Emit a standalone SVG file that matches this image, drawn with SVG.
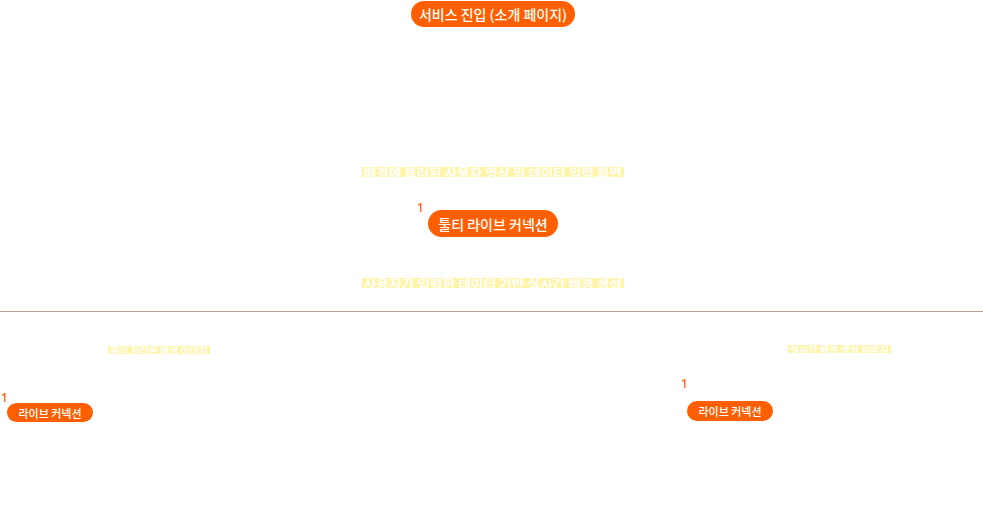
<svg xmlns="http://www.w3.org/2000/svg" width="983" height="523" viewBox="0 0 983 523">
<style>
.pill{fill:#ff5f00}
.pt{fill:#ffffff;font-family:"Noto Sans CJK KR","Noto Sans",sans-serif;font-weight:500;text-anchor:middle;dominant-baseline:central}
.num{fill:#ff5f00;font-family:"Noto Sans","Noto Sans CJK KR",sans-serif;font-weight:500}
.hl{fill:#fff4a8}
.ht{fill:#ffffff;font-family:"Noto Sans CJK KR",sans-serif;font-weight:700;dominant-baseline:central}
</style>
<rect width="983" height="523" fill="#ffffff"/>
<g id="connectors">
<line x1="0" y1="311.5" x2="983" y2="311.5" stroke="#b9a49a" stroke-width="1"/>
</g>
<g id="node-entry">
<rect class="pill" x="411" y="1" width="164" height="26" rx="13"/>
<text class="pt" x="493" y="14" font-size="14">서비스 진입 (소개 페이지)</text>
</g>
<g id="note-1">
<rect class="hl" x="362" y="167" width="262" height="10"/>
<text class="ht" x="364" y="172" font-size="12" textLength="258" lengthAdjust="spacingAndGlyphs">배경에 블러된 사용자 영상 및 데이터 입력 화면</text>
</g>
<g id="node-multi">
<text class="num" x="417" y="212" font-size="12">1</text>
<rect class="pill" x="428" y="210" width="130" height="27" rx="13.5"/>
<text class="pt" x="493" y="223.5" font-size="14">툴티 라이브 커넥션</text>
</g>
<g id="note-2">
<rect class="hl" x="362" y="278" width="262" height="10"/>
<text class="ht" x="364" y="283" font-size="12" textLength="258" lengthAdjust="spacingAndGlyphs">사용자가 입력한 데이터 기반 실시간 배경 생성</text>
</g>
<g id="note-3">
<rect class="hl" x="108" y="346" width="102" height="8"/>
<text class="ht" x="110" y="350" font-size="9" textLength="98" lengthAdjust="spacingAndGlyphs">블러 처리된 배경 이미지</text>
</g>
<g id="node-left">
<text class="num" x="1" y="402" font-size="12">1</text>
<rect class="pill" x="7" y="403" width="86" height="19" rx="9.5"/>
<text class="pt" x="50" y="412.5" font-size="11">라이브 커넥션</text>
</g>
<g id="note-4">
<rect class="hl" x="788" y="345" width="103" height="8"/>
<text class="ht" x="790" y="349" font-size="9" textLength="99" lengthAdjust="spacingAndGlyphs">실시간 배경 생성 이미지</text>
</g>
<g id="node-right">
<text class="num" x="681" y="388" font-size="12">1</text>
<rect class="pill" x="687" y="401" width="86" height="20" rx="10"/>
<text class="pt" x="730" y="411" font-size="11">라이브 커넥션</text>
</g>
</svg>
